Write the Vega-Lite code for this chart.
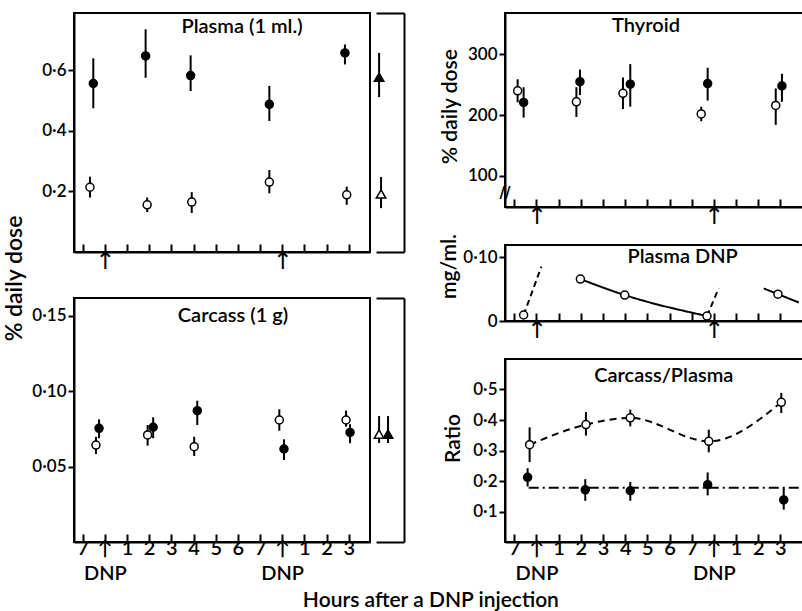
{
  "$schema": "https://vega.github.io/schema/vega-lite/v6.json",
  "padding": {"left": 2, "top": 12, "right": 0, "bottom": 0},
  "background": "white",
  "datasets": {
    "plasma": [
      {"hour": -0.52, "v": 0.557, "lo": 0.475, "hi": 0.640, "t": "filled"},
      {"hour": 1.84, "v": 0.648, "lo": 0.576, "hi": 0.736, "t": "filled"},
      {"hour": 3.87, "v": 0.583, "lo": 0.532, "hi": 0.650, "t": "filled"},
      {"hour": 7.42, "v": 0.488, "lo": 0.433, "hi": 0.549, "t": "filled"},
      {"hour": 10.83, "v": 0.658, "lo": 0.620, "hi": 0.686, "t": "filled"},
      {"hour": -0.67, "v": 0.214, "lo": 0.180, "hi": 0.249, "t": "open"},
      {"hour": 1.91, "v": 0.156, "lo": 0.132, "hi": 0.180, "t": "open"},
      {"hour": 3.92, "v": 0.165, "lo": 0.129, "hi": 0.198, "t": "open"},
      {"hour": 7.42, "v": 0.231, "lo": 0.194, "hi": 0.271, "t": "open"},
      {"hour": 10.91, "v": 0.189, "lo": 0.156, "hi": 0.216, "t": "open"}
    ],
    "plasmaSide": [
      {"pos": 0.11, "v": 0.578, "lo": 0.512, "hi": 0.658, "t": "filled"},
      {"pos": 0.18, "v": 0.192, "lo": 0.145, "hi": 0.248, "t": "open"}
    ],
    "carcass": [
      {"hour": -0.26, "v": 0.0753, "lo": 0.0687, "hi": 0.0812, "t": "filled"},
      {"hour": 2.18, "v": 0.0760, "lo": 0.0687, "hi": 0.0826, "t": "filled"},
      {"hour": 4.17, "v": 0.0870, "lo": 0.0775, "hi": 0.0936, "t": "filled"},
      {"hour": 8.08, "v": 0.0616, "lo": 0.0543, "hi": 0.0680, "t": "filled"},
      {"hour": 11.06, "v": 0.0726, "lo": 0.0654, "hi": 0.0780, "t": "filled"},
      {"hour": -0.40, "v": 0.0642, "lo": 0.0583, "hi": 0.0697, "t": "open"},
      {"hour": 1.93, "v": 0.0709, "lo": 0.0638, "hi": 0.0775, "t": "open"},
      {"hour": 4.03, "v": 0.0631, "lo": 0.0570, "hi": 0.0697, "t": "open"},
      {"hour": 7.87, "v": 0.0808, "lo": 0.0737, "hi": 0.0879, "t": "open"},
      {"hour": 10.88, "v": 0.0808, "lo": 0.0764, "hi": 0.0870, "t": "open"}
    ],
    "carcassSide": [
      {"pos": 0.11, "v": 0.0715, "lo": 0.0656, "hi": 0.0834, "t": "open"},
      {"pos": 0.43, "v": 0.0715, "lo": 0.0656, "hi": 0.0834, "t": "filled"}
    ],
    "thyroid": [
      {"hour": -0.85, "v": 240, "lo": 221, "hi": 259, "t": "open"},
      {"hour": 1.80, "v": 222, "lo": 197, "hi": 246, "t": "open"},
      {"hour": 3.90, "v": 236, "lo": 210, "hi": 262, "t": "open"},
      {"hour": 7.43, "v": 202, "lo": 190, "hi": 214, "t": "open"},
      {"hour": 10.79, "v": 216, "lo": 184, "hi": 244, "t": "open"},
      {"hour": -0.58, "v": 221, "lo": 196, "hi": 246, "t": "filled"},
      {"hour": 1.96, "v": 255, "lo": 233, "hi": 275, "t": "filled"},
      {"hour": 4.23, "v": 251, "lo": 214, "hi": 284, "t": "filled"},
      {"hour": 7.72, "v": 252, "lo": 224, "hi": 278, "t": "filled"},
      {"hour": 11.07, "v": 248, "lo": 222, "hi": 268, "t": "filled"}
    ],
    "dnpPoints": [
      {"hour": -0.58, "v": 0.0094},
      {"hour": 1.98, "v": 0.0656},
      {"hour": 3.98, "v": 0.0406},
      {"hour": 7.69, "v": 0.0078},
      {"hour": 10.89, "v": 0.042}
    ],
    "dnpCurves": [
      {"seg": "a", "style": "dashed", "hour": -0.58, "v": 0.0094},
      {"seg": "a", "style": "dashed", "hour": 0.22, "v": 0.085},
      {"seg": "b", "style": "solid", "hour": 1.98, "v": 0.0656},
      {"seg": "b", "style": "solid", "hour": 3.98, "v": 0.0406},
      {"seg": "b", "style": "solid", "hour": 7.69, "v": 0.0078},
      {"seg": "c", "style": "dashed", "hour": 7.69, "v": 0.0078},
      {"seg": "c", "style": "dashed", "hour": 8.22, "v": 0.0516},
      {"seg": "d", "style": "solid", "hour": 10.25, "v": 0.051},
      {"seg": "d", "style": "solid", "hour": 10.89, "v": 0.042},
      {"seg": "d", "style": "solid", "hour": 11.83, "v": 0.029}
    ],
    "ratio": [
      {"hour": -0.31, "v": 0.319, "lo": 0.262, "hi": 0.376, "t": "open"},
      {"hour": 2.23, "v": 0.385, "lo": 0.349, "hi": 0.426, "t": "open"},
      {"hour": 4.23, "v": 0.407, "lo": 0.379, "hi": 0.434, "t": "open"},
      {"hour": 7.77, "v": 0.330, "lo": 0.294, "hi": 0.368, "t": "open"},
      {"hour": 11.04, "v": 0.458, "lo": 0.423, "hi": 0.489, "t": "open"},
      {"hour": -0.40, "v": 0.212, "lo": 0.182, "hi": 0.242, "t": "filled"},
      {"hour": 2.20, "v": 0.171, "lo": 0.135, "hi": 0.206, "t": "filled"},
      {"hour": 4.23, "v": 0.168, "lo": 0.135, "hi": 0.197, "t": "filled"},
      {"hour": 7.72, "v": 0.188, "lo": 0.153, "hi": 0.228, "t": "filled"},
      {"hour": 11.15, "v": 0.138, "lo": 0.106, "hi": 0.176, "t": "filled"}
    ],
    "ratioMean": [
      {"hour": -0.35, "v": 0.178},
      {"hour": 12.1, "v": 0.178}
    ],
    "empty": []
  },
  "title": {"text": "Hours after a DNP injection", "orient": "bottom", "anchor": "middle", "fontSize": 21, "font": "Lato", "fontWeight": 600, "color": "black", "dx": 25, "offset": 6},
  "spacing": 33,
  "hconcat": [
    {
      "columns": 2,
      "spacing": 6,
      "bounds": "flush",
      "concat": [
        {
          "width": 296, "height": 239,
          "layer": [
            {
              "data": {"name": "plasma"},
              "mark": {"type": "rule", "strokeWidth": 2, "color": "black"},
              "encoding": {
                "x": {"field": "hour", "type": "quantitative", "scale": {"domain": [-1.39, 11.96], "nice": false, "zero": false},
                      "axis": {"title": null, "values": [-1,0,1,2,3,4,5,6,7,8,9,10,11], "tickCount": 13, "labelOverlap": false, "labelFontSize": 24, "labelPadding": 5, "labelFont": "DejaVu Sans", "labelFontWeight": "normal", "labelExpr": "datum.value == 0 || datum.value == 8 ? '↑' : ''"}},
                "y": {"field": "lo", "type": "quantitative", "scale": {"domain": [0, 0.79], "nice": false, "zero": false},
                      "axis": {"title": "% daily dose", "values": [0.2, 0.4, 0.6], "labelExpr": "replace(format(datum.value, '.1f'), '.', '·')", "titleX": -53, "titleY": 265, "titleBaseline": "alphabetic", "titleAngle": -90, "titleFontSize": 23}},
                "y2": {"field": "hi"}
              }
            },
            {
              "data": {"name": "plasma"},
              "mark": {"type": "point", "shape": "circle", "size": 64, "filled": true, "stroke": "black", "strokeWidth": 1.5, "opacity": 1},
              "encoding": {
                "x": {"field": "hour", "type": "quantitative"},
                "y": {"field": "v", "type": "quantitative"},
                "fill": {"field": "t", "type": "nominal", "scale": {"domain": ["filled", "open"], "range": ["black", "white"]}, "legend": null}
              }
            },
            {
              "data": {"values": [{"label": "Plasma (1 ml.)"}]},
              "mark": {"type": "text", "fontSize": 20, "font": "Lato", "fontWeight": 600, "color": "black", "baseline": "middle"},
              "encoding": {"x": {"datum": 6.19}, "y": {"datum": 0.745}, "text": {"field": "label"}}
            }
          ]
        },
        {
          "width": 28, "height": 239,
          "view": {"stroke": null},
          "resolve": {"axis": {"x": "independent"}},
          "layer": [
            {
              "data": {"name": "plasmaSide"},
              "mark": {"type": "rule", "strokeWidth": 2, "color": "black"},
              "encoding": {
                "x": {"field": "pos", "type": "quantitative", "scale": {"domain": [0, 1], "nice": false},
                      "axis": {"orient": "bottom", "title": null, "ticks": false, "labels": false}},
                "y": {"field": "lo", "type": "quantitative", "scale": {"domain": [0, 0.79], "nice": false, "zero": false},
                      "axis": {"orient": "right", "title": null, "ticks": false, "labels": false}},
                "y2": {"field": "hi"}
              }
            },
            {
              "data": {"name": "plasmaSide"},
              "mark": {"type": "point", "shape": "triangle-up", "size": 90, "filled": true, "stroke": "black", "strokeWidth": 1.5, "opacity": 1},
              "encoding": {
                "x": {"field": "pos", "type": "quantitative", "axis": {"orient": "top", "title": null, "ticks": false, "labels": false}},
                "y": {"field": "v", "type": "quantitative", "axis": {"orient": "right", "title": null, "ticks": false, "labels": false}},
                "fill": {"field": "t", "type": "nominal", "scale": {"domain": ["filled", "open"], "range": ["black", "white"]}, "legend": null}
              }
            }
          ]
        },
        {"width": 296, "height": 34, "view": {"stroke": null}, "data": {"name": "empty"}, "mark": "rule", "encoding": {}},
        {"width": 28, "height": 34, "view": {"stroke": null}, "data": {"name": "empty"}, "mark": "rule", "encoding": {}},
        {
          "width": 296, "height": 244,
          "layer": [
            {
              "data": {"name": "carcass"},
              "mark": {"type": "rule", "strokeWidth": 2, "color": "black"},
              "encoding": {
                "x": {"field": "hour", "type": "quantitative", "scale": {"domain": [-1.39, 11.96], "nice": false, "zero": false},
                      "axis": {"title": null, "values": [-1,0,1,2,3,4,5,6,7,8,9,10,11], "tickCount": 13, "labelOverlap": false, "labelExpr": "datum.value == 0 || datum.value == 8 ? ['↑', 'DNP'] : datum.value == -1 ? '7' : datum.value <= 7 ? format(datum.value, 'd') : format(datum.value - 8, 'd')"}},
                "y": {"field": "lo", "type": "quantitative", "scale": {"domain": [0, 0.1616], "nice": false, "zero": false},
                      "axis": {"title": null, "values": [0.05, 0.10, 0.15], "labelExpr": "replace(format(datum.value, '.2f'), '.', '·')"}},
                "y2": {"field": "hi"}
              }
            },
            {
              "data": {"name": "carcass"},
              "mark": {"type": "point", "shape": "circle", "size": 64, "filled": true, "stroke": "black", "strokeWidth": 1.5, "opacity": 1},
              "encoding": {
                "x": {"field": "hour", "type": "quantitative"},
                "y": {"field": "v", "type": "quantitative"},
                "fill": {"field": "t", "type": "nominal", "scale": {"domain": ["filled", "open"], "range": ["black", "white"]}, "legend": null}
              }
            },
            {
              "data": {"values": [{"label": "Carcass (1 g)"}]},
              "mark": {"type": "text", "fontSize": 20, "font": "Lato", "fontWeight": 600, "color": "black", "baseline": "middle"},
              "encoding": {"x": {"datum": 5.78}, "y": {"datum": 0.150}, "text": {"field": "label"}}
            }
          ]
        },
        {
          "width": 28, "height": 244,
          "view": {"stroke": null},
          "resolve": {"axis": {"x": "independent"}},
          "layer": [
            {
              "data": {"name": "carcassSide"},
              "mark": {"type": "rule", "strokeWidth": 2, "color": "black"},
              "encoding": {
                "x": {"field": "pos", "type": "quantitative", "scale": {"domain": [0, 1], "nice": false},
                      "axis": {"orient": "bottom", "title": null, "ticks": false, "labels": false}},
                "y": {"field": "lo", "type": "quantitative", "scale": {"domain": [0, 0.1616], "nice": false, "zero": false},
                      "axis": {"orient": "right", "title": null, "ticks": false, "labels": false}},
                "y2": {"field": "hi"}
              }
            },
            {
              "data": {"name": "carcassSide"},
              "mark": {"type": "point", "shape": "triangle-up", "size": 90, "filled": true, "stroke": "black", "strokeWidth": 1.5, "opacity": 1},
              "encoding": {
                "x": {"field": "pos", "type": "quantitative", "axis": {"orient": "top", "title": null, "ticks": false, "labels": false}},
                "y": {"field": "v", "type": "quantitative", "axis": {"orient": "right", "title": null, "ticks": false, "labels": false}},
                "fill": {"field": "t", "type": "nominal", "scale": {"domain": ["filled", "open"], "range": ["black", "white"]}, "legend": null}
              }
            }
          ]
        }
      ]
    },
    {
      "spacing": 38,
      "bounds": "flush",
      "vconcat": [
        {
          "width": 300, "height": 194,
          "layer": [
            {
              "data": {"name": "thyroid"},
              "mark": {"type": "rule", "strokeWidth": 2, "color": "black"},
              "encoding": {
                "x": {"field": "hour", "type": "quantitative", "scale": {"domain": [-1.42, 12.11], "nice": false, "zero": false},
                      "axis": {"title": null, "values": [-1,0,1,2,3,4,5,6,7,8,9,10,11], "tickCount": 13, "labelOverlap": false, "labelFontSize": 24, "labelPadding": 5, "labelFont": "DejaVu Sans", "labelFontWeight": "normal", "labelExpr": "datum.value == 0 || datum.value == 8 ? '↑' : ''"}},
                "y": {"field": "lo", "type": "quantitative", "scale": {"domain": [49, 368], "nice": false, "zero": false},
                      "axis": {"title": "% daily dose", "values": [100, 200, 300], "titleX": -49, "titleY": 93, "titleBaseline": "alphabetic", "titleAngle": -90, "titleFontSize": 21}},
                "y2": {"field": "hi"}
              }
            },
            {
              "data": {"name": "thyroid"},
              "mark": {"type": "point", "shape": "circle", "size": 64, "filled": true, "stroke": "black", "strokeWidth": 1.5, "opacity": 1},
              "encoding": {
                "x": {"field": "hour", "type": "quantitative"},
                "y": {"field": "v", "type": "quantitative"},
                "fill": {"field": "t", "type": "nominal", "scale": {"domain": ["filled", "open"], "range": ["black", "white"]}, "legend": null}
              }
            },
            {
              "data": {"values": [{"label": "Thyroid"}]},
              "mark": {"type": "text", "fontSize": 20, "font": "Lato", "fontWeight": 600, "color": "black", "baseline": "middle"},
              "encoding": {"x": {"datum": 4.94}, "y": {"datum": 346}, "text": {"field": "label"}}
            },
            {
              "data": {"values": [{"label": "//"}]},
              "mark": {"type": "text", "fontSize": 15, "font": "DejaVu Sans", "fontWeight": "bold", "color": "black", "baseline": "middle", "align": "center"},
              "encoding": {"x": {"datum": -1.42}, "y": {"datum": 72}, "text": {"field": "label"}}
            }
          ]
        },
        {
          "width": 300, "height": 76,
          "layer": [
            {
              "data": {"name": "dnpCurves"},
              "mark": {"type": "line", "strokeWidth": 2, "color": "black", "interpolate": "monotone"},
              "encoding": {
                "x": {"field": "hour", "type": "quantitative", "scale": {"domain": [-1.42, 12.11], "nice": false, "zero": false},
                      "axis": {"title": null, "values": [-1,0,1,2,3,4,5,6,7,8,9,10,11], "tickCount": 13, "labelOverlap": false, "labelFontSize": 24, "labelPadding": 5, "labelFont": "DejaVu Sans", "labelFontWeight": "normal", "labelExpr": "datum.value == 0 || datum.value == 8 ? '↑' : ''"}},
                "y": {"field": "v", "type": "quantitative", "scale": {"domain": [0, 0.119], "nice": false, "zero": false},
                      "axis": {"title": "mg/ml.", "values": [0, 0.05, 0.1], "labelExpr": "datum.value == 0 ? '0' : replace(format(datum.value, '.2f'), '.', '·')", "titleX": -50, "titleY": 21, "titleBaseline": "alphabetic", "titleAngle": -90, "titleFontSize": 21}},
                "detail": {"field": "seg"},
                "strokeDash": {"field": "style", "type": "nominal", "scale": {"domain": ["solid", "dashed"], "range": [[1, 0], [6, 4]]}, "legend": null}
              }
            },
            {
              "data": {"name": "dnpPoints"},
              "mark": {"type": "point", "shape": "circle", "size": 64, "filled": true, "fill": "white", "stroke": "black", "strokeWidth": 1.5, "opacity": 1},
              "encoding": {
                "x": {"field": "hour", "type": "quantitative"},
                "y": {"field": "v", "type": "quantitative"}
              }
            },
            {
              "data": {"values": [{"label": "Plasma DNP"}]},
              "mark": {"type": "text", "fontSize": 20, "font": "Lato", "fontWeight": 600, "color": "black", "baseline": "middle"},
              "encoding": {"x": {"datum": 6.59}, "y": {"datum": 0.100}, "text": {"field": "label"}}
            }
          ]
        },
        {
          "width": 300, "height": 183,
          "layer": [
            {
              "data": {"name": "ratio"},
              "mark": {"type": "rule", "strokeWidth": 2, "color": "black"},
              "encoding": {
                "x": {"field": "hour", "type": "quantitative", "scale": {"domain": [-1.42, 12.11], "nice": false, "zero": false},
                      "axis": {"title": null, "values": [-1,0,1,2,3,4,5,6,7,8,9,10,11], "tickCount": 13, "labelOverlap": false, "labelExpr": "datum.value == 0 || datum.value == 8 ? ['↑', 'DNP'] : datum.value == -1 ? '7' : datum.value <= 7 ? format(datum.value, 'd') : format(datum.value - 8, 'd')"}},
                "y": {"field": "lo", "type": "quantitative", "scale": {"domain": [0, 0.6], "nice": false, "zero": false},
                      "axis": {"title": "Ratio", "values": [0.1, 0.2, 0.3, 0.4, 0.5], "labelExpr": "replace(format(datum.value, '.1f'), '.', '·')", "titleX": -46, "titleY": 79, "titleBaseline": "alphabetic", "titleAngle": -90, "titleFontSize": 21}},
                "y2": {"field": "hi"}
              }
            },
            {
              "data": {"name": "ratio"},
              "transform": [{"filter": "datum.t == 'open'"}],
              "mark": {"type": "line", "strokeWidth": 2, "color": "black", "interpolate": "monotone", "strokeDash": [7, 5]},
              "encoding": {
                "x": {"field": "hour", "type": "quantitative"},
                "y": {"field": "v", "type": "quantitative"}
              }
            },
            {
              "data": {"name": "ratioMean"},
              "mark": {"type": "line", "strokeWidth": 2, "color": "black", "strokeDash": [10, 4, 2, 4]},
              "encoding": {
                "x": {"field": "hour", "type": "quantitative"},
                "y": {"field": "v", "type": "quantitative"}
              }
            },
            {
              "data": {"name": "ratio"},
              "mark": {"type": "point", "shape": "circle", "size": 64, "filled": true, "stroke": "black", "strokeWidth": 1.5, "opacity": 1},
              "encoding": {
                "x": {"field": "hour", "type": "quantitative"},
                "y": {"field": "v", "type": "quantitative"},
                "fill": {"field": "t", "type": "nominal", "scale": {"domain": ["filled", "open"], "range": ["black", "white"]}, "legend": null}
              }
            },
            {
              "data": {"values": [{"label": "Carcass/Plasma"}]},
              "mark": {"type": "text", "fontSize": 20, "font": "Lato", "fontWeight": 600, "color": "black", "baseline": "middle"},
              "encoding": {"x": {"datum": 5.74}, "y": {"datum": 0.544}, "text": {"field": "label"}}
            }
          ]
        }
      ]
    }
  ],
  "config": {
    "font": "Lato",
    "view": {"stroke": "black", "strokeWidth": 2},
    "axis": {
      "domainColor": "black", "domainWidth": 2, "tickColor": "black", "tickWidth": 2,
      "labelColor": "black", "titleColor": "black", "labelFont": "Lato", "titleFont": "Lato",
      "labelFontSize": 17, "labelFontWeight": 600, "titleFontSize": 19, "titleFontWeight": 600,
      "grid": false, "labelOverlap": false, "labelFlush": false, "labelBound": false
    },
    "axisX": {"tickSize": -8, "labelFontSize": 20, "labelPadding": 4, "labelAngle": 0, "labelLineHeight": 25},
    "axisY": {"tickSize": 6, "labelPadding": 2}
  }
}
